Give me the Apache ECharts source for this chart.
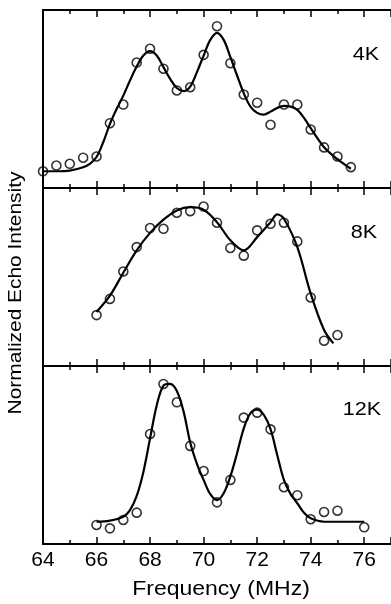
<!DOCTYPE html>
<html>
<head>
<meta charset="utf-8">
<script src="https://cdn.jsdelivr.net/npm/echarts@6/dist/echarts.min.js"></script>
<style>
html, body { margin: 0; padding: 0; background: #fff; }
#chart { width: 391px; height: 604px; }
</style>
</head>
<body>
<div id="chart"></div>
<script>
// frequency axis
var xMin = 64, xMax = 77, xStep = 2;

// 4K measured points
var obs4kX = [64, 64.5, 65, 65.5, 66, 66.5, 67, 67.5, 68, 68.5, 69, 69.5, 70, 70.5, 71, 71.5, 72, 72.5, 73, 73.5, 74, 74.5, 75, 75.5];
var obs4kY = [9.4, 12.6, 13.6, 17.0, 17.7, 36.4, 46.9, 70.5, 78.2, 67.0, 54.8, 56.6, 74.8, 90.9, 70.1, 52.5, 47.9, 35.5, 46.9, 46.9, 32.9, 22.8, 17.7, 11.7];
// 4K fit
var fit4kX = [64, 64.5, 65, 65.5, 65.75, 66, 66.25, 66.5, 66.75, 67, 67.25, 67.5, 67.75, 68, 68.25, 68.5, 68.75, 69, 69.25, 69.5, 69.75, 70, 70.25, 70.5, 70.75, 71, 71.25, 71.5, 71.75, 72, 72.25, 72.5, 72.75, 73, 73.25, 73.5, 73.75, 74, 74.5, 75, 75.5];
var fit4kY = [9.4, 9.4, 9.8, 11.7, 13.6, 17.4, 25.7, 36.0, 44.4, 51.9, 60.4, 68.2, 74.4, 76.9, 74.4, 67.9, 61.3, 56.2, 54.4, 57.0, 65.1, 74.4, 83.2, 87.2, 83.2, 73.5, 63.2, 53.2, 45.7, 42.2, 41.2, 42.9, 45.0, 46.1, 45.7, 43.9, 39.4, 33.6, 22.9, 16.2, 10.8];

// 8K measured points
var obs8kX = [66, 66.5, 67, 67.5, 68, 68.5, 69, 69.5, 70, 70.5, 71, 71.5, 72, 72.5, 73, 73.5, 74, 74.5, 75];
var obs8kY = [28.6, 37.7, 53.1, 66.8, 77.5, 77.1, 86.1, 87.0, 89.6, 80.5, 66.3, 62.0, 76.2, 79.9, 80.5, 70.0, 38.5, 14.2, 17.4];
// 8K fit
var fit8kX = [66, 66.5, 67, 67.5, 68, 68.5, 69, 69.5, 70, 70.5, 71, 71.5, 72, 72.5, 72.75, 73, 73.5, 74, 74.5, 74.85];
var fit8kY = [30.4, 39.5, 52.4, 65.0, 74.8, 82.2, 87.4, 89.2, 87.8, 80.8, 70.6, 65.0, 72.4, 80.8, 85.2, 82.7, 66.8, 40.7, 20.2, 12.7];

// 12K measured points
var obs12kX = [66, 66.5, 67, 67.5, 68, 68.5, 69, 69.5, 70, 70.5, 71, 71.5, 72, 72.5, 73, 73.5, 74, 74.5, 75, 76];
var obs12kY = [10.7, 8.8, 13.5, 17.6, 61.8, 89.9, 79.6, 55.1, 41.0, 23.4, 36.0, 71.0, 73.8, 64.4, 31.9, 27.4, 13.9, 18.0, 18.7, 9.4];
// 12K fit
var fit12kX = [66, 66.5, 67, 67.25, 67.5, 67.75, 68, 68.25, 68.5, 68.75, 69, 69.25, 69.5, 69.75, 70, 70.25, 70.5, 70.75, 71, 71.25, 71.5, 71.75, 72, 72.25, 72.5, 72.75, 73, 73.25, 73.5, 73.75, 74, 74.5, 75, 76];
var fit12kY = [12.5, 13.1, 15.3, 19.0, 27.0, 40.5, 59.4, 78.0, 89.0, 90.0, 86.0, 74.5, 57.0, 45.0, 36.0, 28.0, 24.7, 28.5, 38.0, 51.0, 65.0, 73.5, 75.5, 72.5, 64.5, 50.0, 36.0, 28.0, 22.9, 17.5, 14.4, 12.5, 12.5, 12.5];

var panelLabels = ['4K', '8K', '12K'];

var myChart = echarts.init(document.getElementById('chart'));

function zip(xs, ys) {
    return xs.map(function (x, i) { return [x, ys[i]]; });
}

var obs = [zip(obs4kX, obs4kY), zip(obs8kX, obs8kY), zip(obs12kX, obs12kY)];
var fits = [zip(fit4kX, fit4kY), zip(fit8kX, fit8kY), zip(fit12kX, fit12kY)];

var tops = [10, 188, 366];
var grids = [], xAxes = [], yAxes = [], series = [], graphics = [];

function freqAxis(i, pos, labels) {
    return {
        gridIndex: i,
        type: 'value',
        position: pos,
        min: xMin, max: xMax, interval: xStep,
        axisLine: { onZero: false, lineStyle: { color: '#000', width: 2 } },
        axisTick: { inside: true, length: 7, lineStyle: { color: '#000', width: 1.5 } },
        minorTick: { show: true, splitNumber: 2, length: 4, lineStyle: { color: '#000', width: 1.5 } },
        splitLine: { show: false },
        axisLabel: {
            show: labels,
            showMaxLabel: false,
            margin: 6,
            color: '#000',
            fontSize: 21,
            fontFamily: 'Liberation Sans'
        }
    };
}

for (var i = 0; i < 3; i++) {
    grids.push({ left: 43, right: -8, top: tops[i], height: 178 });
    xAxes.push(freqAxis(i, 'bottom', i === 2));
    xAxes.push(freqAxis(i, 'top', false));
    yAxes.push({
        gridIndex: i,
        type: 'value',
        min: 0, max: 100,
        axisLine: { show: true, onZero: false, lineStyle: { color: '#000', width: 2 } },
        axisTick: { show: false },
        axisLabel: { show: false },
        splitLine: { show: false }
    });
    series.push({
        type: 'line',
        xAxisIndex: i * 2,
        yAxisIndex: i,
        data: fits[i],
        smooth: 0.35,
        showSymbol: false,
        lineStyle: { color: '#000', width: 2.2 }
    });
    series.push({
        type: 'scatter',
        xAxisIndex: i * 2,
        yAxisIndex: i,
        data: obs[i],
        symbol: 'circle',
        symbolSize: 9,
        itemStyle: { color: 'rgba(0,0,0,0)', borderColor: '#000', borderWidth: 1.6 }
    });
}

var labelPos = [[366, 55], [364, 233], [362, 410]];
panelLabels.forEach(function (t, i) {
    graphics.push({
        type: 'text',
        x: labelPos[i][0], y: labelPos[i][1],
        scaleX: 1.2,
        style: {
            text: t, fill: '#000', fontSize: 18, fontFamily: 'Liberation Sans',
            align: 'center', verticalAlign: 'middle'
        }
    });
});

graphics.push({
    type: 'text',
    x: 221, y: 589,
    scaleX: 1.15,
    style: {
        text: 'Frequency (MHz)', fill: '#000', fontSize: 20, fontFamily: 'Liberation Sans',
        align: 'center', verticalAlign: 'middle'
    }
});
graphics.push({
    type: 'text',
    x: 16, y: 293,
    rotation: Math.PI / 2,
    scaleX: 1.1,
    style: {
        text: 'Normalized Echo Intensity', fill: '#000', fontSize: 19, fontFamily: 'Liberation Sans',
        align: 'center', verticalAlign: 'middle'
    }
});

var option = {
    animation: false,
    backgroundColor: '#fff',
    grid: grids,
    xAxis: xAxes,
    yAxis: yAxes,
    series: series,
    graphic: graphics
};
myChart.setOption(option);
</script>
</body>
</html>
